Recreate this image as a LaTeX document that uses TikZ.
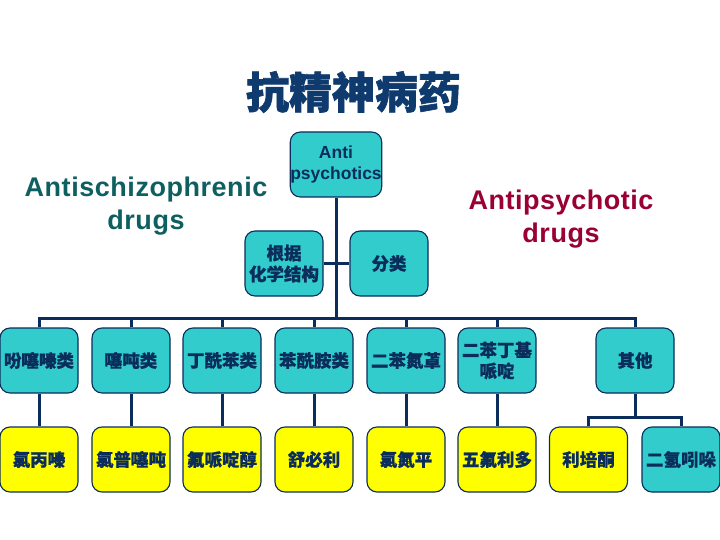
\documentclass[tikz,border=0pt]{standalone}
\usepackage{fontspec}
\setmainfont{Liberation Sans}
\newfontfamily\cjk{Noto Sans CJK SC}[BoldFeatures={FakeBold=0.6}]
\newfontfamily\cjkt{Noto Sans CJK SC}[BoldFeatures={FakeBold=1.5}]
\newfontfamily\lat[LetterSpace=2]{Liberation Sans}
\definecolor{navy}{HTML}{0B2D5B}
\definecolor{titleblue}{HTML}{0E3A6E}
\definecolor{tealfill}{HTML}{33CCCC}
\definecolor{yelfill}{HTML}{FFFF00}
\definecolor{darkteal}{HTML}{0E5F5F}
\definecolor{darkred}{HTML}{990033}
\begin{document}
\begin{tikzpicture}[x=1pt,y=-1pt,
  box/.style={draw=navy, line width=1.1pt, rounded corners=10pt, minimum width=78pt, minimum height=65pt, inner sep=0pt, align=center, text=navy, font=\cjk\bfseries\fontsize{17.5}{21}\selectfont},
  tbox/.style={box, fill=tealfill},
  ybox/.style={box, fill=yelfill},
  conn/.style={draw=navy, line width=3pt}]
\useasboundingbox (0,0) rectangle (720,540);
% title
\node[text=titleblue, font=\cjkt\bfseries\fontsize{43}{48}\selectfont] (title) at (353.5,92) {抗精神病药};
% side labels
\node[text=darkteal, align=center, font=\lat\bfseries\fontsize{27}{33}\selectfont] (lleft) at (146,206) {Antischizophrenic\\drugs};
\node[text=darkred, align=center, font=\lat\bfseries\fontsize{27}{33}\selectfont] (lright) at (561,219) {Antipsychotic\\drugs};
% top nodes
\node[tbox, minimum width=80pt, font=\bfseries\fontsize{17.5}{21}\selectfont] (anti) at (336,164.5) {Anti\\psychotics};
\node[tbox] (gj) at (284,263.5) {根据\\化学结构};
\node[tbox] (fl) at (389,263.5) {分类};
% row 2
\node[tbox] (r1) at (39,360.5) {吩噻嗪类};
\node[tbox] (r2) at (131,360.5) {噻吨类};
\node[tbox] (r3) at (222,360.5) {丁酰苯类};
\node[tbox] (r4) at (314,360.5) {苯酰胺类};
\node[tbox] (r5) at (406,360.5) {二苯氮䓬};
\node[tbox] (r6) at (497,360.5) {二苯丁基\\哌啶};
\node[tbox] (r7) at (635,360.5) {其他};
% row 3
\node[ybox] (s1) at (39,459.5) {氯丙嗪};
\node[ybox] (s2) at (131,459.5) {氯普噻吨};
\node[ybox] (s3) at (222,459.5) {氟哌啶醇};
\node[ybox] (s4) at (314,459.5) {舒必利};
\node[ybox] (s5) at (406,459.5) {氯氮平};
\node[ybox] (s6) at (497,459.5) {五氟利多};
\node[ybox] (s7) at (588.5,459.5) {利培酮};
\node[tbox] (s8) at (681,459.5) {二氢吲哚};
% connectors
\coordinate (bus) at (336,318);
\coordinate (k) at (635,417);
\draw[conn] (anti.south) -- (bus);
\draw[conn] (gj.east) -- (fl.west);
\draw[conn] (r1.north) -- (r1.north |- bus) -| (r7.north);
\foreach \i in {2,3,4,5,6}{\draw[conn] (r\i.north) -- (r\i.north |- bus);}
\foreach \i in {1,2,3,4,5,6}{\draw[conn] (r\i.south) -- (s\i.north);}
\draw[conn] (r7.south) -- (k);
\draw[conn] (s7.north) |- (k) -| (s8.north);
\end{tikzpicture}
\end{document}
